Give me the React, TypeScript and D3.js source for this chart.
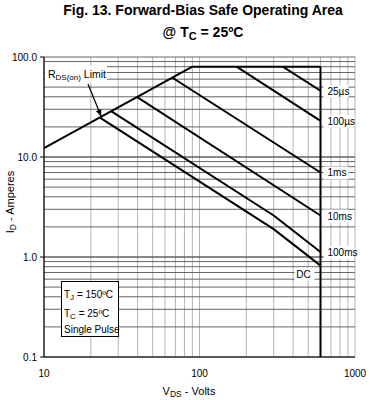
import React from 'react';
import { scaleLog, line } from 'd3';

const width = 370;
const height = 400;
const margin = { top: 57, right: 15, bottom: 43, left: 44 };

// V_DS (volts), I_D (amps)
const rdsLimit: [number, number][] = [[10, 12.3], [90, 80]];
const currentLimit: [number, number][] = [[90, 80], [600, 80]];
const voltageLimit: [number, number][] = [[600, 80], [600, 0.1]];
const pulse25us: [number, number][] = [[343, 80], [600, 46]];
const pulse100us: [number, number][] = [[173, 80], [600, 23]];
const pulse1ms: [number, number][] = [[67, 62], [600, 7.0]];
const pulse10ms: [number, number][] = [[39.5, 40], [600, 2.6]];
const pulse100ms: [number, number][] = [[27, 28.8], [300, 2.6], [600, 1.12]];
const pulseDC: [number, number][] = [[22.9, 24.8], [300, 1.9], [600, 0.82]];

const curves = [rdsLimit, currentLimit, voltageLimit, pulse25us, pulse100us, pulse1ms, pulse10ms, pulse100ms, pulseDC];

// labels at the 600 V end of each line
const curveLabels = ['25\u00b5s', '100\u00b5s', '1ms', '10ms', '100ms'];
const curveLabelAmps = [46, 23, 7.0, 2.6, 1.12];

const xTicks = [10, 100, 1000];
const yTicks = [0.1, 1, 10, 100];
const yTickLabels = ['0.1', '1.0', '10.0', '100.0'];

const font = '"Liberation Sans", Arial, Helvetica, sans-serif';

export default function App() {
  const x = scaleLog().domain([10, 1000]).range([margin.left, width - margin.right]);
  const y = scaleLog().domain([0.1, 100]).range([height - margin.bottom, margin.top]);

  const path = line<[number, number]>()
    .x((d) => x(d[0]))
    .y((d) => y(d[1]));

  const minorX: number[] = [];
  for (let d = 10; d < 1000; d *= 10) for (let k = 1; k <= 10; k++) minorX.push(d * k);
  const minorY: number[] = [];
  for (let d = 0.1; d < 99; d *= 10) for (let k = 1; k <= 10; k++) minorY.push(+(d * k).toPrecision(3));

  const x0 = x(10), x1 = x(1000), y0 = y(0.1), y1 = y(100);
  const lblX = x(600) + 7;

  return (
    <svg width={width} height={height} style={{ position: 'absolute', left: 0, top: 0 }} fontFamily={font}>
      <defs>
        <marker id="arr" viewBox="0 0 10 10" refX="9" refY="5" markerWidth="6" markerHeight="6" orient="auto">
          <path d="M0,1 L10,5 L0,9 z" fill="#000" />
        </marker>
      </defs>
      <rect width={width} height={height} fill="#fff" />

      <text x={203} y={15} textAnchor="middle" fontSize={14} fontWeight="bold">Fig. 13. Forward-Bias Safe Operating Area</text>
      <text x={203} y={37} textAnchor="middle" fontSize={14} fontWeight="bold">
        @ T<tspan fontSize={11} dy={3}>C</tspan><tspan dy={-3}> = 25ºC</tspan>
      </text>

      {minorX.map((v, i) => (
        <line key={'vx' + i} x1={x(v)} x2={x(v)} y1={y1} y2={y0} stroke="#b4b4b4" strokeWidth={1} />
      ))}
      {minorY.map((v, i) => (
        <line key={'hy' + i} x1={x0} x2={x1} y1={y(v)} y2={y(v)} stroke="#555" strokeWidth={0.9} />
      ))}

      <line x1={x0} x2={x0} y1={y1} y2={y0} stroke="#000" strokeWidth={1.2} />
      <line x1={x0} x2={x1} y1={y0} y2={y0} stroke="#000" strokeWidth={1.2} />
      {yTicks.map((v, i) => (
        <g key={'yt' + i}>
          <line x1={x0 - 4} x2={x0} y1={y(v)} y2={y(v)} stroke="#000" />
          <text x={x0 - 7} y={y(v) + 3.5} textAnchor="end" fontSize={10}>{yTickLabels[i]}</text>
        </g>
      ))}
      {xTicks.map((v, i) => (
        <text key={'xt' + i} x={x(v)} y={377} textAnchor="middle" fontSize={10}>{v}</text>
      ))}

      <text x={189} y={395} textAnchor="middle" fontSize={11}>
        V<tspan fontSize={8.5} dy={2}>DS</tspan><tspan dy={-2}> - Volts</tspan>
      </text>
      <text transform={`translate(14,${(y1 + y0) / 2 - 5}) rotate(-90)`} textAnchor="middle" fontSize={11}>
        I<tspan fontSize={8.5} dy={2}>D</tspan><tspan dy={-2}> - Amperes</tspan>
      </text>

      {curves.map((c, i) => (
        <path key={'c' + i} d={path(c) || ''} fill="none" stroke="#000" strokeWidth={2} strokeLinejoin="round" />
      ))}

      {curveLabels.map((t, i) => (
        <g key={'cl' + i}>
          <rect x={lblX - 4} y={y(curveLabelAmps[i]) - 6} width={t.length > 4 ? 31 : 25} height={13} fill="#fff" />
          <text x={lblX} y={y(curveLabelAmps[i]) + 4} fontSize={10}>{t}</text>
        </g>
      ))}
      <rect x={x(600) - 26} y={y(0.82) + 2} width={20} height={13} fill="#fff" />
      <text x={x(600) - 17} y={y(0.82) + 12} textAnchor="middle" fontSize={10}>DC</text>

      <rect x={45} y={66} width={62} height={16} fill="#fff" />
      <text x={48} y={78} fontSize={10.5}>
        R<tspan fontSize={8} dy={2}>DS(on)</tspan><tspan dy={-2}> Limit</tspan>
      </text>
      <line x1={88} y1={84} x2={101} y2={116} stroke="#000" strokeWidth={1.2} markerEnd="url(#arr)" />

      <rect x={61.5} y={281.5} width={57} height={55} fill="#fff" stroke="#000" strokeWidth={1} />
      <text x={64} y={298} fontSize={10}>
        T<tspan fontSize={8} dy={2}>J</tspan><tspan dy={-2}> = 150ºC</tspan>
      </text>
      <text x={64} y={317} fontSize={10}>
        T<tspan fontSize={8} dy={2}>C</tspan><tspan dy={-2}> = 25ºC</tspan>
      </text>
      <text x={64} y={333} fontSize={10}>Single Pulse</text>
    </svg>
  );
}
